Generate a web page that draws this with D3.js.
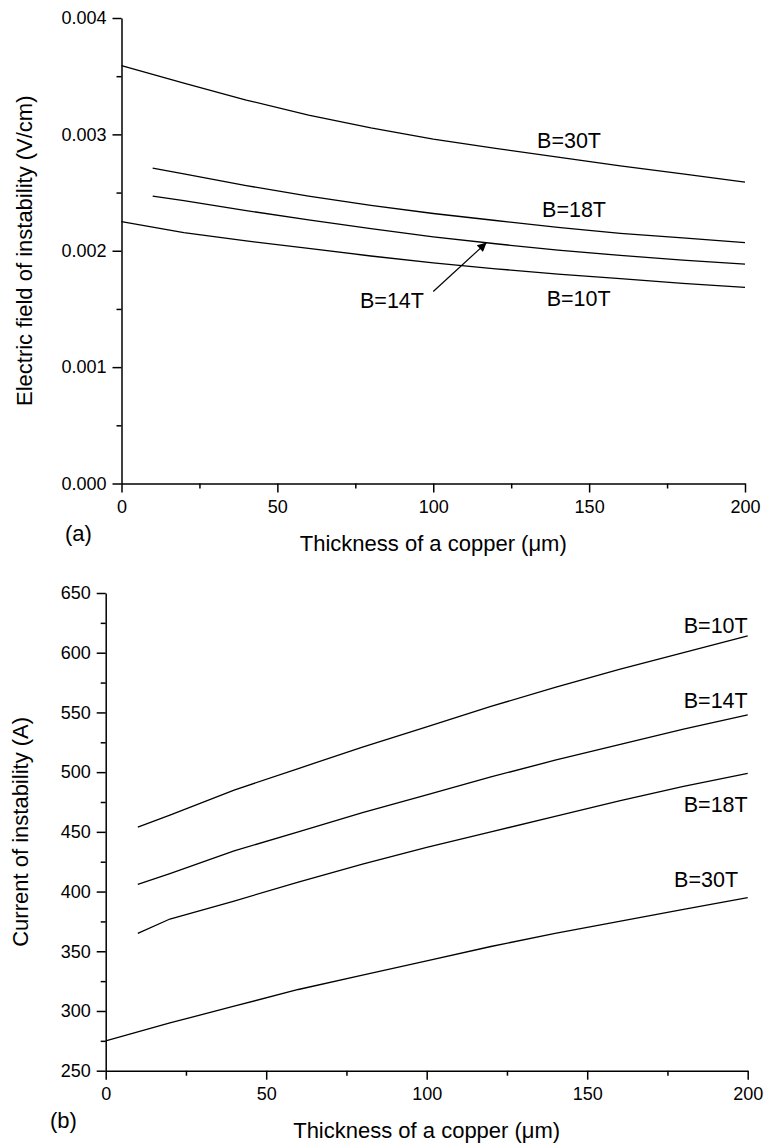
<!DOCTYPE html>
<html>
<head>
<meta charset="utf-8">
<script src="https://cdn.jsdelivr.net/npm/d3@7"></script>
<style>
  html, body { margin: 0; padding: 0; background: #fff; }
  svg { display: block; font-family: "Liberation Sans", Arial, sans-serif; }
  .axis path, .axis line { stroke: #000; stroke-width: 1.5; }
  .axis text { fill: #000; font-size: 18px; font-family: "Liberation Sans", Arial, sans-serif; }
  .curve { fill: none; stroke: #000; stroke-width: 1.3; }
</style>
</head>
<body>
<svg id="chart" width="767" height="1148"></svg>
<script>
// Copper thickness (µm) sample points
const thicknessFrom0  = [0, 20, 40, 60, 80, 100, 120, 140, 160, 180, 200];
const thicknessFrom10 = [10, 20, 40, 60, 80, 100, 120, 140, 160, 180, 200];

// (a) Electric field of instability (V/cm)
const field30T = [0.00359, 0.00344, 0.003295, 0.003165, 0.003055, 0.00296, 0.00288, 0.002805, 0.00273, 0.00266, 0.00259];
const field18T = [0.00271, 0.00266, 0.00256, 0.00247, 0.00239, 0.00232, 0.00226, 0.00220, 0.00215, 0.00211, 0.00207];
const field14T = [0.00247, 0.00243, 0.002345, 0.002265, 0.00219, 0.00212, 0.00206, 0.002005, 0.00196, 0.00192, 0.001885];
const field10T = [0.00225, 0.002155, 0.002085, 0.00202, 0.001955, 0.001895, 0.001845, 0.00180, 0.00176, 0.00172, 0.001685];

// (b) Current of instability (A)
const current10T = [454, 464, 485, 503, 521, 538, 555, 571, 586, 600, 614];
const current14T = [406, 415, 434, 450, 466, 481, 496, 510, 523, 536, 548];
const current18T = [365, 377, 392, 408, 423, 437, 450, 463, 476, 488, 499];
const current30T = [275, 290, 304, 318, 330, 342, 354, 365, 375, 385, 395];

// Axis ticks
const xTicks = [0, 50, 100, 150, 200];
const xMinorTicks = [25, 75, 125, 175];
const fieldTicks = [0, 0.001, 0.002, 0.003, 0.004];
const fieldMinorTicks = [0.0005, 0.0015, 0.0025, 0.0035];
const currentTicks = [250, 300, 350, 400, 450, 500, 550, 600, 650];
const currentMinorTicks = [275, 325, 375, 425, 475, 525, 575, 625];

// Curve labels, anchored in data units
const fieldLabels = [
  { text: "B=30T", x: 133.3, y: 0.002882, anchor: "start" },
  { text: "B=18T", x: 134.9, y: 0.00229, anchor: "start" },
  { text: "B=14T", x: 76.5, y: 0.001508, anchor: "start" },
  { text: "B=10T", x: 136.4, y: 0.001525, anchor: "start" }
];
const currentLabels = [
  { text: "B=10T", x: 200, y: 616.4, anchor: "end" },
  { text: "B=14T", x: 200, y: 553.6, anchor: "end" },
  { text: "B=18T", x: 200, y: 466.6, anchor: "end" },
  { text: "B=30T", x: 197, y: 404, anchor: "end" }
];
// Pointer from the B=14T label to its curve
const pointerFrom = { x: 100, y: 0.00165 };
const pointerTo = { x: 117.1, y: 0.00207 };

const svg = d3.select("#chart");

svg.append("defs").append("marker")
  .attr("id", "head")
  .attr("viewBox", "0 0 10 10")
  .attr("refX", 10).attr("refY", 5)
  .attr("markerWidth", 11).attr("markerHeight", 9)
  .attr("markerUnits", "userSpaceOnUse")
  .attr("orient", "auto")
  .append("path").attr("d", "M0,0 L10,5 L0,10 Z").attr("fill", "#000");

function drawPanel(cfg) {
  const x = d3.scaleLinear().domain([0, 200]).range(cfg.xRange);
  const y = d3.scaleLinear().domain(cfg.yDomain).range(cfg.yRange);
  const g = svg.append("g");
  const y0 = cfg.yRange[0];
  const x0 = cfg.xRange[0];

  // minor ticks
  g.append("g").attr("class", "axis").attr("transform", `translate(0,${y0})`)
    .call(d3.axisBottom(x).tickValues(xMinorTicks).tickSize(5).tickSizeOuter(0).tickFormat(""))
    .select(".domain").remove();
  g.append("g").attr("class", "axis").attr("transform", `translate(${x0},0)`)
    .call(d3.axisLeft(y).tickValues(cfg.yMinor).tickSize(5).tickSizeOuter(0).tickFormat(""))
    .select(".domain").remove();

  // major ticks + axis lines
  g.append("g").attr("class", "axis").attr("transform", `translate(0,${y0})`)
    .call(d3.axisBottom(x).tickValues(xTicks).tickSize(9).tickSizeOuter(0).tickPadding(8));
  g.append("g").attr("class", "axis").attr("transform", `translate(${x0},0)`)
    .call(d3.axisLeft(y).tickValues(cfg.yTicks).tickSize(9).tickSizeOuter(0).tickPadding(6)
      .tickFormat(cfg.yFormat));

  // curves
  const line = d3.line().x(d => x(d[0])).y(d => y(d[1]));
  cfg.series.forEach(s => {
    g.append("path").attr("class", "curve")
      .attr("d", line(s.xs.map((t, i) => [t, s.ys[i]])));
  });

  // labels
  g.selectAll(null).data(cfg.labels).join("text")
    .attr("x", d => x(d.x)).attr("y", d => y(d.y))
    .attr("text-anchor", d => d.anchor)
    .attr("font-size", "21.5px").attr("fill", "#000")
    .text(d => d.text);

  // axis titles
  g.append("text")
    .attr("x", (cfg.xRange[0] + cfg.xRange[1]) / 2).attr("y", y0 + 67)
    .attr("text-anchor", "middle").attr("font-size", "22px")
    .text("Thickness of a copper (\u03BCm)");
  g.append("text")
    .attr("transform", `translate(${cfg.yTitleX},${(cfg.yRange[0] + cfg.yRange[1]) / 2}) rotate(-90)`)
    .attr("text-anchor", "middle").attr("font-size", "22px")
    .text(cfg.yTitle);
  g.append("text")
    .attr("x", cfg.panelX).attr("y", y0 + 57)
    .attr("font-size", "22px")
    .text(cfg.panel);

  return { x, y, g };
}

const fieldPanel = drawPanel({
  xRange: [121.5, 745],
  yDomain: [0, 0.004], yRange: [483.5, 18],
  yTicks: fieldTicks, yMinor: fieldMinorTicks, yFormat: d3.format(".3f"),
  series: [
    { xs: thicknessFrom0, ys: field30T },
    { xs: thicknessFrom10, ys: field18T },
    { xs: thicknessFrom10, ys: field14T },
    { xs: thicknessFrom0, ys: field10T }
  ],
  labels: fieldLabels,
  yTitle: "Electric field of instability (V/cm)", yTitleX: 31.5,
  panel: "(a)", panelX: 65
});

fieldPanel.g.append("line")
  .attr("x1", fieldPanel.x(pointerFrom.x)).attr("y1", fieldPanel.y(pointerFrom.y))
  .attr("x2", fieldPanel.x(pointerTo.x)).attr("y2", fieldPanel.y(pointerTo.y))
  .attr("stroke", "#000").attr("stroke-width", 1.2)
  .attr("marker-end", "url(#head)");

drawPanel({
  xRange: [105.7, 747.7],
  yDomain: [250, 650], yRange: [1070.7, 593],
  yTicks: currentTicks, yMinor: currentMinorTicks, yFormat: d3.format("d"),
  series: [
    { xs: thicknessFrom10, ys: current10T },
    { xs: thicknessFrom10, ys: current14T },
    { xs: thicknessFrom10, ys: current18T },
    { xs: thicknessFrom0, ys: current30T }
  ],
  labels: currentLabels,
  yTitle: "Current of instability (A)", yTitleX: 27.5,
  panel: "(b)", panelX: 50
});
</script>
</body>
</html>
